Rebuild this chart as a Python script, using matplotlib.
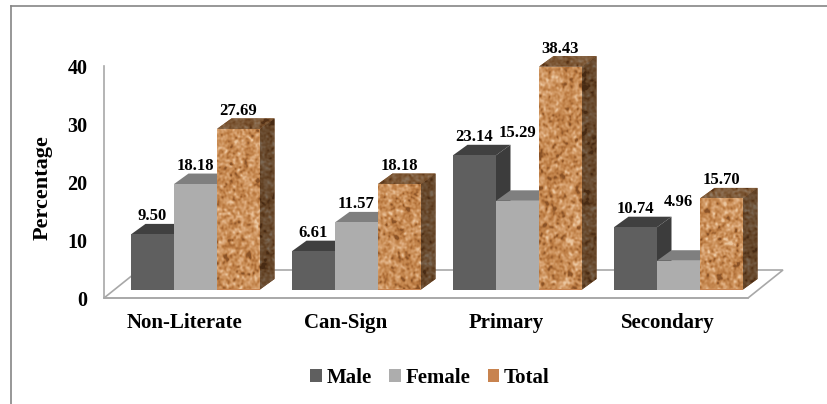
import numpy as np
import matplotlib
matplotlib.use('Agg')
import matplotlib.pyplot as plt
from matplotlib.colors import LinearSegmentedColormap
from matplotlib.lines import Line2D
from matplotlib.patches import Patch, Polygon

categories = ['Non-Literate', 'Can-Sign', 'Primary', 'Secondary']
series_names = ['Male', 'Female', 'Total']
male = [9.50, 6.61, 23.14, 10.74]
female = [18.18, 11.57, 15.29, 4.96]
total = [27.69, 18.18, 38.43, 15.70]
y_ticks = [0, 10, 20, 30, 40]

# hand-moved labels: (series, category) -> extra lift in points
label_lift = {(1, 2): 36, (1, 3): 29}

FIG_W, FIG_H = 827, 404
plt.rcParams['font.family'] = ['Liberation Serif', 'DejaVu Serif']
plt.rcParams['font.weight'] = 'bold'

fig = plt.figure(figsize=(FIG_W / 100, FIG_H / 100), dpi=100, facecolor='white')

# axes box in pixels: front wall edge to front floor corner
left, right, top, bottom = 104, 748, 66, 298
ax = fig.add_axes([left / FIG_W, 1 - bottom / FIG_H,
                   (right - left) / FIG_W, (bottom - top) / FIG_H])
ax.set_xlim(-0.5, 3.5)
ax.set_ylim(0, 40)
ax.patch.set_visible(False)

px_x = 4 / (right - left)
px_y = 40 / (bottom - top)

axis_grey = '#A8A8A8'
for name in ['top', 'right']:
    ax.spines[name].set_visible(False)
for name in ['left', 'bottom']:
    ax.spines[name].set_color(axis_grey)
    ax.spines[name].set_linewidth(1.2)
    ax.spines[name].set_zorder(1)

ax.set_yticks(y_ticks)
ax.set_xticks(range(len(categories)))
ax.set_xticklabels(categories, fontsize=15, fontweight='bold')
ax.tick_params(axis='x', length=0, pad=11)
ax.tick_params(axis='y', length=0, pad=12, labelsize=14.5)
ax.set_ylabel('Percentage', fontsize=16, fontweight='bold')
ax.yaxis.set_label_coords(-51 * px_x / 4, 0.478)

# floor of the 3D box
floor = Polygon([(-0.5, 0), (-0.5 + 35 * px_x, 28 * px_y),
                 (3.5 + 35 * px_x, 28 * px_y), (3.5, 0)],
                closed=True, facecolor='white', edgecolor=axis_grey,
                linewidth=1.2, clip_on=False, zorder=0.5)
ax.add_patch(floor)

# cork texture: fine grain, a little mottling and sparse dark flecks
rng = np.random.default_rng(7)


def smooth_noise(shape, sigma):
    noise = rng.standard_normal(shape)
    fy = np.fft.fftfreq(shape[0])[:, None]
    fx = np.fft.fftfreq(shape[1])[None, :]
    kernel = np.exp(-2 * (np.pi * sigma) ** 2 * (fx ** 2 + fy ** 2))
    out = np.fft.ifft2(np.fft.fft2(noise) * kernel).real
    return out / out.std()


shape = (FIG_H, FIG_W)
flecks = np.clip(smooth_noise(shape, 2.2) - 1.1, 0, None)
tex = 0.8 * smooth_noise(shape, 1.0) + 0.2 * smooth_noise(shape, 5.0) - 1.5 * flecks
tex = np.clip((tex + 2.2) / 4.4, 0, 1)
cork = LinearSegmentedColormap.from_list(
    'cork', ['#8A5226', '#B9783F', '#CB9059', '#DBA777', '#EBC7A0'])
tex_rgb = cork(tex)[:, :, :3]


def fill_cork(patch, shade, zorder):
    # the full texture is clipped to the face it fills
    x0 = -0.5 - left * px_x
    x1 = x0 + FIG_W * px_x
    y0 = -(FIG_H - bottom) * px_y
    y1 = y0 + FIG_H * px_y
    im = ax.imshow(tex_rgb * shade, extent=(x0, x1, y0, y1), aspect='auto',
                   interpolation='bilinear', zorder=zorder)
    im.set_clip_box(fig.bbox)
    im.set_clip_path(patch)


bar_w = 43 * px_x
group_shift = 11 * px_x
base = 8.5 * px_y
depth_x = 14.5 * px_x
depth_y = 10.5 * px_y
front_cols = ['#5F5F5F', '#ADADAD', '#C8834F']
top_cols = ['#404040', '#7F7F7F', '#8A5A30']
side_cols = ['#3C3C3C', '#757575', '#7A4C28']
data = [male, female, total]

z = 2.0
for c in range(len(categories)):
    for s, values in enumerate(data):
        val = values[c]
        x0 = c + group_shift + (s - 1.5) * bar_w
        x1 = x0 + bar_w
        y1 = base + val

        top_face = Polygon([(x0, y1), (x0 + depth_x, y1 + depth_y),
                            (x1 + depth_x, y1 + depth_y), (x1, y1)],
                           closed=True, facecolor=top_cols[s], edgecolor='none',
                           clip_on=False, zorder=z)
        side_face = Polygon([(x1, base), (x1 + depth_x, base + depth_y),
                             (x1 + depth_x, y1 + depth_y), (x1, y1)],
                            closed=True, facecolor=side_cols[s], edgecolor='none',
                            clip_on=False, zorder=z + 0.1)
        ax.add_patch(top_face)
        ax.add_patch(side_face)
        front = ax.bar(x0 + bar_w / 2, val, bar_w, bottom=base, color=front_cols[s],
                       linewidth=0, clip_on=False, zorder=z + 0.2)[0]
        if s == 2:
            fill_cork(top_face, 0.62, z + 0.01)
            fill_cork(side_face, 0.52, z + 0.11)
            fill_cork(front, 1.0, z + 0.21)
        z += 1

        lift = label_lift.get((s, c), 0)
        ax.annotate(f'{val:.2f}', (x0 + bar_w / 2, y1), xytext=(0, 13 + lift),
                    textcoords='offset points', ha='center', va='center',
                    fontsize=12, fontweight='bold', color='black',
                    annotation_clip=False, zorder=100)

ax.set_xlim(-0.5, 3.5)
ax.set_ylim(0, 40)

handles = [Patch(facecolor=col, edgecolor='none') for col in front_cols]
fig.legend(handles, series_names, loc='center', bbox_to_anchor=(430 / FIG_W, 1 - 378 / FIG_H),
           ncol=3, frameon=False, fontsize=15, handlelength=0.55, handleheight=0.55,
           handletextpad=0.22, columnspacing=0.85)

# outer frame, open on the right and at the bottom
frame_grey = '#858585'
fig.add_artist(Line2D([11 / FIG_W, 11 / FIG_W], [0, 1 - 6 / FIG_H],
                      color=frame_grey, linewidth=1.2))
fig.add_artist(Line2D([11 / FIG_W, 1], [1 - 6 / FIG_H, 1 - 6 / FIG_H],
                      color=frame_grey, linewidth=1.2))

fig.savefig('out.png', dpi=100)
